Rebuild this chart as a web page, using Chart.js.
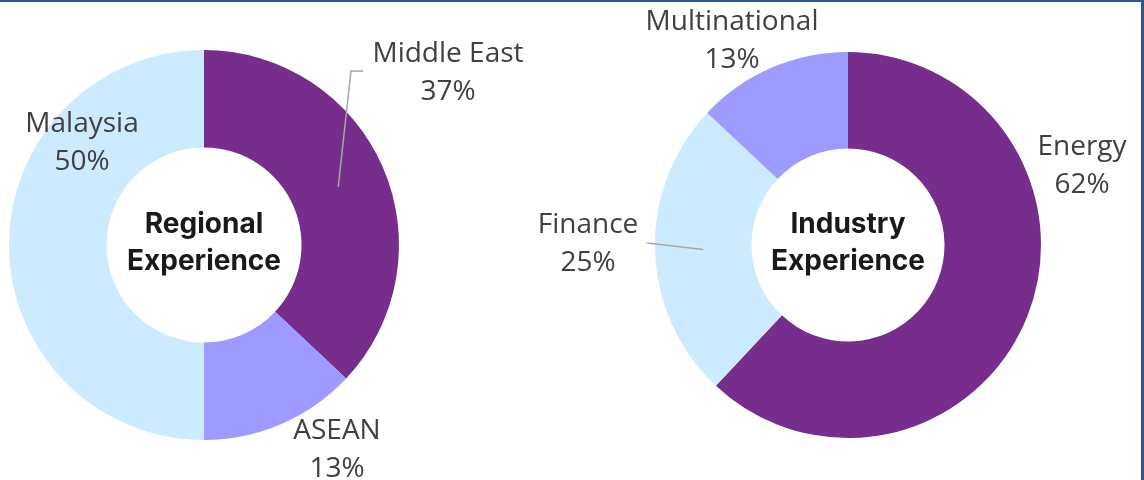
<!DOCTYPE html>
<html>
<head>
<meta charset="utf-8">
<script src="https://cdn.jsdelivr.net/npm/chart.js@4/dist/chart.umd.min.js"></script>
<style>
  html, body { margin: 0; padding: 0; background: #fff; }
  #wrap { position: relative; width: 1144px; height: 480px; overflow: hidden; }
  canvas { position: absolute; left: 0; top: 0; }
  #topLine { position: absolute; left: 0; top: 0; width: 1144px; height: 2px; background: #2F5597; }
  #rightLine { position: absolute; right: 0; top: 0; width: 3px; height: 480px; background: #2F5597; }
</style>
</head>
<body>
<div id="wrap">
  <canvas id="c1" width="1144" height="480"></canvas>
  <canvas id="c2" width="1144" height="480"></canvas>
  <div id="topLine"></div>
  <div id="rightLine"></div>
</div>
<script>
// ---- Data ----
const regionLabels = ['Middle East', 'ASEAN', 'Malaysia'];
const regionValues = [37, 13, 50];
const regionTitle = ['Regional', 'Experience'];

const industryLabels = ['Energy', 'Finance', 'Multinational'];
const industryValues = [62, 25, 13];
const industryTitle = ['Industry', 'Experience'];

const sliceColors = ['#772D8B', '#9D9BFF', '#CDEBFF'];
const industryColors = ['#772D8B', '#CDEBFF', '#9D9BFF'];

// ---- Layout (label block centres and leader elbows) ----
const regionLabelPos = [[448, 73], [337, 450], [82, 143]];
const regionLeaders = [[[351, 71], [363, 71]], null, null];
const industryLabelPos = [[1082, 166], [588, 244], [732, 41]];
const industryLeaders = [null, [[647, 243]], null];

const labelFont = '28px "Open Sans", sans-serif';
const centerFont = 'bold 28px Inter, sans-serif';

function makePlugin(values, labels, title, labelPos, leaders) {
  return {
    id: 'lbl',
    afterDraw(chart) {
      const ctx = chart.ctx;
      const meta = chart.getDatasetMeta(0);
      ctx.save();
      // leader lines
      ctx.strokeStyle = '#A6A6A6';
      ctx.lineWidth = 1.5;
      meta.data.forEach((arc, i) => {
        const pts = leaders[i];
        if (!pts) return;
        const p = arc.tooltipPosition();
        ctx.beginPath();
        ctx.moveTo(p.x, p.y);
        pts.forEach(q => ctx.lineTo(q[0], q[1]));
        ctx.stroke();
      });
      // labels
      ctx.fillStyle = '#404040';
      ctx.font = labelFont;
      ctx.textAlign = 'center';
      ctx.textBaseline = 'middle';
      labels.forEach((l, i) => {
        const [x, y] = labelPos[i];
        ctx.fillText(l, x, y - 19);
        ctx.fillText(values[i] + '%', x, y + 19);
      });
      // centre title
      const a = meta.data[0];
      ctx.fillStyle = '#1A1A1A';
      ctx.font = centerFont;
      ctx.fillText(title[0], a.x, a.y - 20);
      ctx.fillText(title[1], a.x, a.y + 17);
      ctx.restore();
    }
  };
}

function makeChart(id, labels, values, colors, padding, plugin) {
  return new Chart(document.getElementById(id), {
    type: 'doughnut',
    data: {
      labels: labels,
      datasets: [{
        data: values,
        backgroundColor: colors,
        borderWidth: 0
      }]
    },
    options: {
      responsive: false,
      animation: false,
      devicePixelRatio: 1,
      cutout: '50%',
      layout: { padding: padding },
      plugins: { legend: { display: false }, tooltip: { enabled: false } }
    },
    plugins: [plugin]
  });
}

makeChart('c1', regionLabels, regionValues, sliceColors,
  { left: 9, right: 745, top: 50, bottom: 40 },
  makePlugin(regionValues, regionLabels, regionTitle, regionLabelPos, regionLeaders));

makeChart('c2', industryLabels, industryValues, industryColors,
  { left: 655, right: 103, top: 52, bottom: 42 },
  makePlugin(industryValues, industryLabels, industryTitle, industryLabelPos, industryLeaders));
</script>
</body>
</html>
